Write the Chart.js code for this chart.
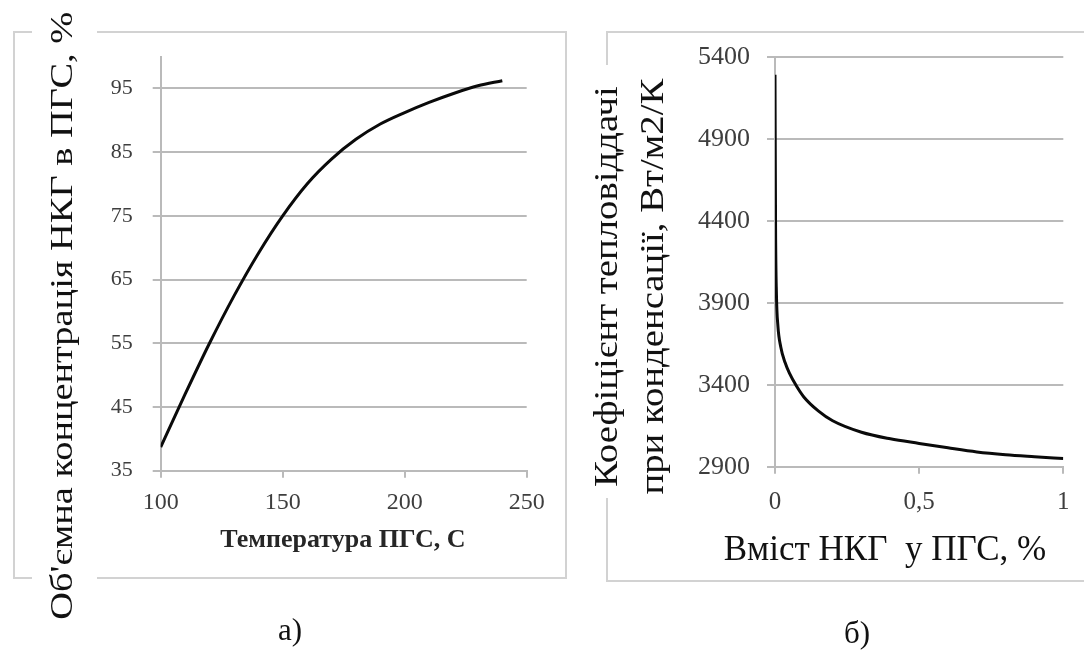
<!DOCTYPE html>
<html>
<head>
<meta charset="utf-8">
<script src="https://cdn.jsdelivr.net/npm/chart.js@4"></script>
<style>
  body { margin: 0; background: #fff; }
  #page { position: relative; width: 1084px; height: 651px; overflow: hidden; font-family: 'Liberation Serif', serif; }
  .frame { position: absolute; border: 2px solid #d2d2d2; box-sizing: border-box; }
  .box { position: absolute; }
  .txt { position: absolute; white-space: nowrap; color: #111; }
  .rot { transform: rotate(-90deg); transform-origin: 0 0; background: #fff; box-sizing: border-box; text-align: center; }
  .stretch { display: inline-block; }
</style>
</head>
<body>
<div id="page">
  <div class="frame" style="left:13px; top:31px; width:554px; height:548px;"></div>
  <div class="frame" style="left:606px; top:31px; width:490px; height:551px;"></div>

  <div class="box" style="left:0; top:0; width:580px; height:651px;"><canvas id="chartA"></canvas></div>
  <div class="box" style="left:580px; top:0; width:504px; height:651px;"><canvas id="chartB"></canvas></div>

  <div class="txt rot" style="left:32px; top:636px; width:640px; height:65px; font-size:32px; line-height:58px; padding-bottom:7px;"><span class="stretch" style="transform:scaleX(1.2);">Об'ємна концентрація НКГ в ПГС, %</span></div>
  <div class="txt rot" style="left:583px; top:498px; width:433px; height:92px; font-size:34px; line-height:46px; padding-right:10px;"><span class="stretch" style="transform:scaleX(1.14);">Коефіцієнт тепловіддачі<br>при конденсації, Вт/м2/К</span></div>

  <div class="txt" style="left:143px; top:526px; width:400px; text-align:center; font-size:26px; line-height:26px; font-weight:bold; color:#262626;">Температура ПГС, С</div>
  <div class="txt" style="left:635px; top:531px; width:500px; text-align:center; font-size:35px; line-height:35px;">Вміст НКГ&nbsp; у ПГС, %</div>

  <div class="txt" style="left:240px; top:614px; width:100px; text-align:center; font-size:31px; line-height:31px;">а)</div>
  <div class="txt" style="left:807px; top:617px; width:100px; text-align:center; font-size:31px; line-height:31px;">б)</div>
</div>
<script>
// chart а) - concentration vs temperature
const tempC = [100, 110, 120, 130, 140, 150, 160, 170, 180, 190, 200, 210, 220, 230, 240];
const concNKG = [38.7, 47.0, 55.0, 62.4, 69.1, 75.0, 80.0, 83.9, 87.0, 89.4, 91.2, 92.8, 94.2, 95.4, 96.2];
const xTicksA = [100, 150, 200, 250];
const yTicksA = [35, 45, 55, 65, 75, 85, 95];

// chart б) - heat transfer coefficient vs NCG content
const contentNKG = [0, 0.002, 0.005, 0.01, 0.02, 0.035, 0.05, 0.075, 0.1, 0.15, 0.2, 0.3, 0.4, 0.5, 0.6, 0.7, 0.8, 0.9, 1.0];
const heatCoef = [5290, 4350, 3950, 3760, 3630, 3535, 3470, 3390, 3325, 3240, 3180, 3110, 3070, 3042, 3015, 2990, 2973, 2961, 2950];
const xTicksB = [0, 0.5, 1];
const yTicksB = [2900, 3400, 3900, 4400, 4900, 5400];

const gridColor = '#bababa';
const tickColor = '#3e3e3e';
const serif = 'Liberation Serif';

function setTicks(list) {
    return function (scale) {
        scale.ticks = list.map(function (v) { return {value: v}; });
    };
}

// plain numbers with a decimal comma, no thousands separator
function plainLabel(v) {
    return String(v).replace('.', ',');
}

function makeChart(id, xs, ys, cfg) {
    const points = xs.map(function (x, i) {
        return {x: x, y: ys[i]};
    });
    return new Chart(document.getElementById(id), {
        type: 'line',
        data: {
            datasets: [{
                data: points,
                borderColor: '#0a0a0a',
                borderWidth: 3,
                pointRadius: 0,
                fill: false,
                cubicInterpolationMode: 'monotone'
            }]
        },
        options: {
            responsive: true,
            maintainAspectRatio: false,
            animation: false,
            layout: {padding: cfg.padding},
            plugins: {legend: {display: false}, tooltip: {enabled: false}},
            scales: {
                x: {
                    type: 'linear',
                    min: cfg.xMin,
                    max: cfg.xMax,
                    afterBuildTicks: setTicks(cfg.xTicks),
                    afterFit: function (s) { s.height = 80; },
                    grid: {drawOnChartArea: false, color: gridColor, lineWidth: 2, tickLength: 7},
                    border: {color: gridColor, width: 2},
                    ticks: {
                        color: tickColor,
                        padding: cfg.xPad,
                        maxRotation: 0,
                        font: {family: serif, size: cfg.xFont},
                        callback: plainLabel
                    }
                },
                y: {
                    type: 'linear',
                    min: cfg.yMin,
                    max: cfg.yMax,
                    afterBuildTicks: setTicks(cfg.yTicks),
                    afterFit: function (s) { s.width = cfg.yWidth; },
                    grid: {color: gridColor, lineWidth: 2, tickLength: 8},
                    border: {color: gridColor, width: 2},
                    ticks: {
                        color: tickColor,
                        padding: cfg.yPad,
                        font: {family: serif, size: cfg.yFont},
                        callback: plainLabel
                    }
                }
            }
        }
    });
}

makeChart('chartA', tempC, concNKG, {
    padding: {left: 60, right: 53.3, top: 56.5, bottom: 100.3},
    xMin: 100, xMax: 250, xTicks: xTicksA, xFont: 24, xPad: 11,
    yMin: 35, yMax: 100, yTicks: yTicksA, yFont: 22, yPad: 20, yWidth: 100.7
});

makeChart('chartB', contentNKG, heatCoef, {
    padding: {left: 90, right: 20.7, top: 56.7, bottom: 104.3},
    xMin: 0, xMax: 1, xTicks: xTicksB, xFont: 25, xPad: 14,
    yMin: 2900, yMax: 5400, yTicks: yTicksB, yFont: 26, yPad: 17, yWidth: 105
});
</script>
</body>
</html>
